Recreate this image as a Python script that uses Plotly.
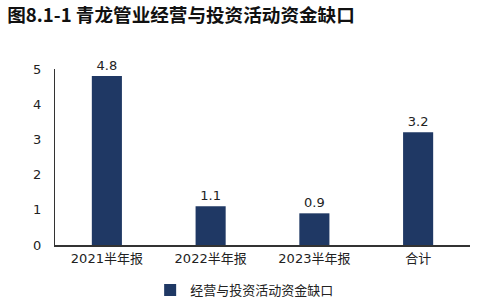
import plotly.graph_objects as go

categories = ["2021半年报", "2022半年报", "2023半年报", "合计"]
values = [4.8, 1.1, 0.9, 3.2]
value_labels = ["4.8", "1.1", "0.9", "3.2"]
series_name = "经营与投资活动资金缺口"
title_text = "图8.1-1 青龙管业经营与投资活动资金缺口"
y_ticks = [0, 1, 2, 3, 4, 5]

FONT = "DejaVu Sans, Noto Sans CJK SC, sans-serif"
BAR = "#1f3864"

fig = go.Figure()
fig.add_trace(go.Bar(
    x=categories, y=values, name=series_name,
    marker=dict(color=BAR, line=dict(width=0)),
    width=0.29,
    text=value_labels, textposition="outside",
    textfont=dict(size=13, color="#222222", family=FONT),
    cliponaxis=False,
))

fig.update_layout(
    width=481, height=303,
    margin=dict(l=55, r=11, t=69, b=58, autoexpand=False),
    paper_bgcolor="white", plot_bgcolor="white",
    font=dict(family=FONT, size=13, color="#222222"),
    title=dict(text="<b>" + title_text + "</b>", x=0.015, xanchor="left",
               y=1 - 15 / 303, yanchor="middle",
               font=dict(size=18.6, color="#111111", family="Noto Sans CJK SC, sans-serif")),
    showlegend=True,
    legend=dict(orientation="h", x=0.457, xanchor="center",
                yref="container", y=13 / 303, yanchor="middle",
                font=dict(size=13, color="#222222", family="Noto Sans CJK SC, sans-serif"),
                itemwidth=30),
    bargap=0.7,
)
fig.update_xaxes(showline=True, linecolor="#333333", linewidth=2, ticks="",
                 showgrid=False, tickfont=dict(size=13, family=FONT))
fig.update_yaxes(range=[0, 5], tickvals=y_ticks, showline=True, linecolor="#333333",
                 linewidth=1, showgrid=False, zeroline=False, ticks="",
                 ticklabelstandoff=10, tickfont=dict(size=13, family=FONT))

fig.write_html("out.html")
